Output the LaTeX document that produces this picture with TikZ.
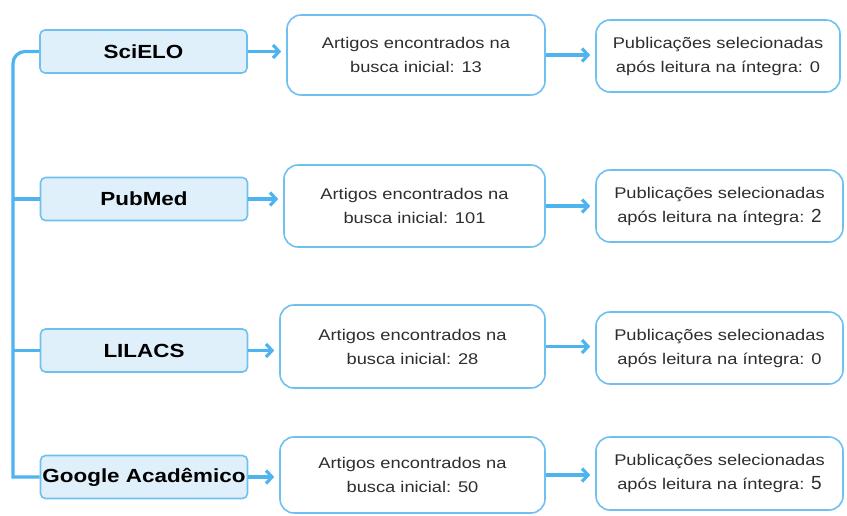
\documentclass[tikz,border=0pt]{standalone}
\usepackage{fontspec}
\setmainfont{Liberation Sans}[FakeStretch=1.18]
\newfontfamily\digitfont{Liberation Sans}
\usetikzlibrary{arrows.meta}
\definecolor{lineblue}{HTML}{4DB4EF}
\definecolor{edgeblue}{HTML}{70C0EF}
\definecolor{fillblue}{HTML}{DFF0FB}
\definecolor{txtgray}{HTML}{2E2E2E}
\begin{document}
\begin{tikzpicture}[x=1pt,y=-1pt,
  src/.style={draw=edgeblue, line width=1.6pt, fill=fillblue, rounded corners=5pt,
    minimum width=207pt, minimum height=43pt, inner sep=0pt,
    font=\fontsize{19}{22}\selectfont\bfseries, text=black},
  res/.style={draw=edgeblue, line width=1.6pt, fill=white, rounded corners=14pt,
    align=center, inner sep=0pt, font=\fontsize{15.5}{24}\selectfont, text=txtgray},
  conn/.style={draw=lineblue, line width=3.2pt},
  arr/.style={conn, -{Straight Barb[length=6pt,width=13pt]}, shorten >=5pt}]
\useasboundingbox (0,0) rectangle (847,515);

% source boxes
\node[src] (s1) at (143.5,51.5) {SciELO};
\node[src] (s2) at (144,199) {PubMed};
\node[src] (s3) at (144,350.5) {LILACS};
\node[src] (s4) at (144,477) {Google Acadêmico};

% middle boxes
\node[res, minimum width=258pt, minimum height=80pt] (m1) at (416,55) {Artigos encontrados na\\busca inicial: 13};
\node[res, minimum width=261pt, minimum height=82pt] (m2) at (414.5,206) {Artigos encontrados na\\busca inicial: 101};
\node[res, minimum width=265pt, minimum height=83pt] (m3) at (412.5,346.5) {Artigos encontrados na\\busca inicial: 28};
\node[res, minimum width=265pt, minimum height=76pt] (m4) at (412.5,475) {Artigos encontrados na\\busca inicial: 50};

% result boxes
\node[res, minimum width=244pt, minimum height=72pt] (r1) at (718,56) {Publicações selecionadas\\após leitura na íntegra: 0};
\node[res, minimum width=247pt, minimum height=72pt] (r2) at (719.5,206) {Publicações selecionadas\\após leitura na íntegra: {\digitfont\fontsize{19}{24}\selectfont 2}};
\node[res, minimum width=247pt, minimum height=72pt] (r3) at (719.5,348) {Publicações selecionadas\\após leitura na íntegra: 0};
\node[res, minimum width=247pt, minimum height=73pt] (r4) at (719.5,473.5) {Publicações selecionadas\\após leitura na íntegra: {\digitfont\fontsize{19}{24}\selectfont 5}};

% trunk
\coordinate (c1) at (25,51.5);
\coordinate (c2) at (13,477);
\draw[conn] (s1.west) -- (c1) arc[start angle=270, end angle=180, radius=12] -- (c2) -- (s4.west);
\draw[conn] (s2.west) -- (s2.west -| c2);
\draw[conn] (s3.west) -- (s3.west -| c2);

% arrows
\foreach \i in {1,2,3,4}{
  \draw[arr] (s\i.east) -- (s\i.east -| m\i.west);
  \draw[arr] (m\i.east) -- (m\i.east -| r\i.west);
}
\end{tikzpicture}
\end{document}
